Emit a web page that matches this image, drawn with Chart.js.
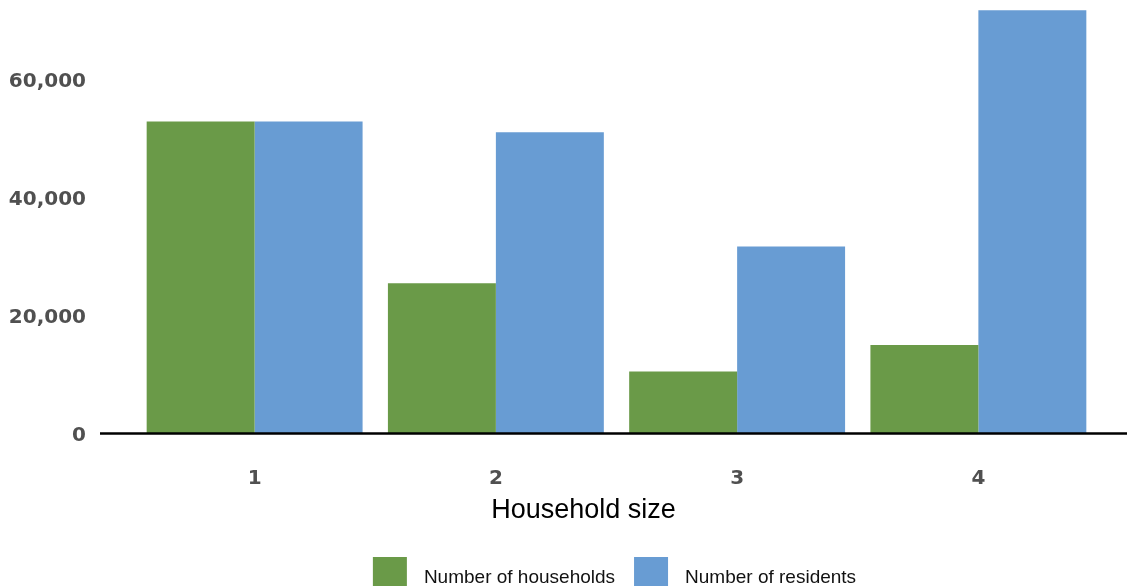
<!DOCTYPE html>
<html>
<head>
<meta charset="utf-8">
<script src="https://cdn.jsdelivr.net/npm/chart.js@4.4.1/dist/chart.umd.min.js"></script>
<style>
  html, body { margin: 0; padding: 0; background: #ffffff; }
  canvas { display: block; }
</style>
</head>
<body>
<canvas id="chart" width="1127" height="586"></canvas>
<script>
// Households and residents by household size
const categories = ['1', '2', '3', '4'];
const households = [52900, 25500, 10500, 15000];
const residents = [52900, 51100, 31700, 71800];
const yTickValues = [0, 20000, 40000, 60000];
const seriesNames = ['Number of households', 'Number of residents'];
const seriesColors = ['#6a9a48', '#689cd3'];
const xTitle = 'Household size';

const tickFont = { family: 'DejaVu Sans', weight: 'bold', size: 20 };

// Heavy zero line that runs past the plot on both sides
const baselinePlugin = {
  id: 'baseline',
  afterDatasetsDraw(chart) {
    const { ctx, chartArea, scales } = chart;
    const yPix = scales.y.getPixelForValue(0);
    ctx.save();
    ctx.strokeStyle = '#000000';
    ctx.lineWidth = 2.5;
    ctx.beginPath();
    ctx.moveTo(chartArea.left - 34, yPix);
    ctx.lineTo(chart.width, yPix);
    ctx.stroke();
    ctx.restore();
  }
};

// Axis title and legend row below the category labels
const footerPlugin = {
  id: 'footer',
  afterDraw(chart) {
    const { ctx, chartArea } = chart;
    ctx.save();

    // x-axis title, set a little left of the plot centre
    ctx.font = '27px "Liberation Sans", Arial, sans-serif';
    ctx.fillStyle = '#000000';
    ctx.textAlign = 'center';
    ctx.textBaseline = 'alphabetic';
    ctx.fillText(xTitle, (chartArea.left + chartArea.right) / 2 - 33, chartArea.bottom + 84.5);

    // legend
    const boxW = 34, boxH = 30, textGap = 17, itemGap = 19;
    ctx.font = '19px "Liberation Sans", Arial, sans-serif';
    const items = chart.data.datasets.map(ds => ({
      label: ds.label,
      color: ds.backgroundColor,
      width: ctx.measureText(ds.label).width
    }));
    const total = items.reduce((s, it) => s + boxW + textGap + it.width, 0) + itemGap * (items.length - 1);
    let x = (chartArea.left + chartArea.right) / 2 - 2 - total / 2;
    const boxTop = chart.height - 29;
    const textY = chart.height - 3.5;
    ctx.textAlign = 'left';
    items.forEach(it => {
      ctx.fillStyle = it.color;
      ctx.fillRect(x, boxTop, boxW, boxH);
      x += boxW + textGap;
      ctx.fillStyle = '#111111';
      ctx.fillText(it.label, x, textY);
      x += it.width + itemGap;
    });
    ctx.restore();
  }
};

new Chart(document.getElementById('chart'), {
  type: 'bar',
  data: {
    labels: categories,
    datasets: [
      {
        label: seriesNames[0],
        data: households,
        backgroundColor: seriesColors[0],
        borderWidth: 0,
        categoryPercentage: 0.895,
        barPercentage: 1.0
      },
      {
        label: seriesNames[1],
        data: residents,
        backgroundColor: seriesColors[1],
        borderWidth: 0,
        categoryPercentage: 0.895,
        barPercentage: 1.0
      }
    ]
  },
  options: {
    responsive: false,
    animation: false,
    layout: { padding: { top: 9, right: 28, bottom: 62.5, left: 0 } },
    plugins: {
      legend: { display: false },
      tooltip: { enabled: false }
    },
    scales: {
      x: {
        grid: { display: false, drawTicks: false },
        border: { display: false },
        ticks: { padding: 33, color: '#505050', font: tickFont }
      },
      y: {
        min: 0,
        max: 72000,
        afterBuildTicks: scale => {
          scale.ticks = yTickValues.map(v => ({ value: v }));
        },
        afterFit: scale => {
          scale.width = 134;
          scale.paddingTop = 0;
          scale.paddingBottom = 0;
        },
        grid: { display: false, drawTicks: false },
        border: { display: false },
        ticks: {
          padding: 48,
          labelOffset: 2,
          color: '#505050',
          font: tickFont,
          callback: v => Number(v).toLocaleString('en-US')
        }
      }
    }
  },
  plugins: [baselinePlugin, footerPlugin]
});
</script>
</body>
</html>
